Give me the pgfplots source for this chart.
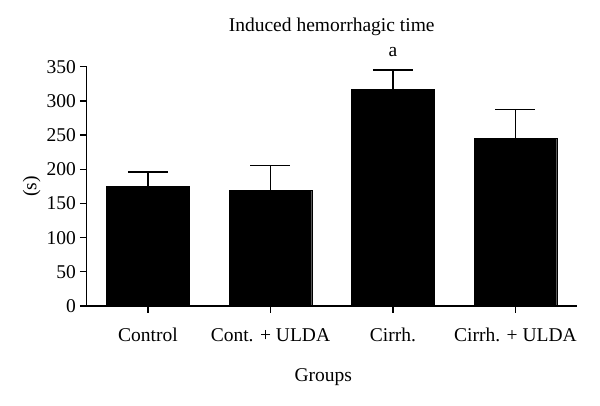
\documentclass[border=0pt]{standalone}
\usepackage{pgfplots}
\pgfplotsset{compat=1.18}
\usepackage{fontspec}
\setmainfont{Liberation Serif}
\begin{document}
\begin{tikzpicture}
\fontsize{19.5}{23}\selectfont
\useasboundingbox (-86.7pt,-100pt) rectangle (513.3pt,306pt);
\begin{axis}[
  scale only axis,
  width=490pt, height=239.3pt,
  xmin=-0.5, xmax=3.5,
  ymin=0, ymax=350,
  ytick={0,50,...,350},
  xtick={0,1,2,3},
  xticklabels={Control, Cont. + ULDA, Cirrh., Cirrh. + ULDA},
  axis lines*=left,
  axis line style={-, line width=1.3pt},
  tick style={line width=1.3pt, black},
  tick align=outside,
  major tick length=6.7pt,
  clip=false,
  /pgf/number format/assume math mode=true,
  ticklabel style={font=\fontsize{19.5}{23}\selectfont},
  yticklabel style={inner sep=0pt, xshift=-4pt},
  xticklabel style={anchor=base, inner sep=0pt, yshift=-28.7pt},
  title={Induced hemorrhagic time},
  title style={at={(axis description cs:0.5,1)}, anchor=base, yshift=29pt, inner sep=0pt, font=\fontsize{19.5}{23}\selectfont},
  xlabel={Groups},
  xlabel style={at={(axis description cs:0.483,0)}, anchor=base, yshift=-75.7pt, inner sep=0pt, font=\fontsize{19.5}{23}\selectfont},
  ylabel={(s)},
  ylabel style={at={(axis description cs:0,0.5)}, anchor=center, yshift=55pt, inner sep=0pt, font=\fontsize{19.5}{23}\selectfont},
]
\addplot[ybar, bar width=0.674, fill=black, draw=black,
  error bars/.cd, y dir=plus, y explicit,
  error bar style={line width=1.3pt, black},
  error mark options={rotate=90, line width=1.3pt, mark size=20pt, black}]
  coordinates {
    (0,175.5) +- (0,20.5)
    (1,169) +- (0,36.7)
    (2,317) +- (0,28)
    (3,245) +- (0,42)
  };
\node[anchor=base, inner sep=0pt] at (axis cs:2,350) [yshift=10pt] {a};
\end{axis}
\end{tikzpicture}
\end{document}
